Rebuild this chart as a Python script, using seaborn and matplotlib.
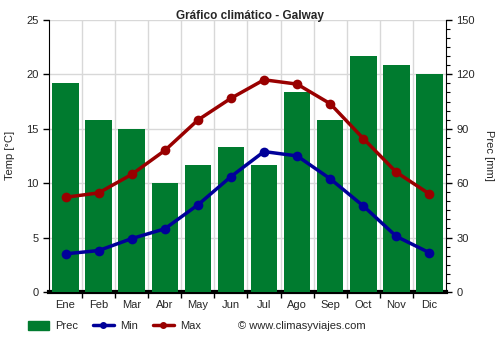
import matplotlib
matplotlib.use("Agg")
import matplotlib.pyplot as plt
import seaborn as sns
import pandas as pd
import numpy as np
from matplotlib.patches import Patch
from matplotlib.lines import Line2D
from matplotlib.ticker import MultipleLocator

months = ["Ene", "Feb", "Mar", "Abr", "May", "Jun", "Jul", "Ago", "Sep", "Oct", "Nov", "Dic"]
prec = [115, 95, 90, 60, 70, 80, 70, 110, 95, 130, 125, 120]
tmin = [3.5, 3.8, 4.9, 5.8, 8.0, 10.6, 12.9, 12.5, 10.4, 7.9, 5.1, 3.6]
tmax = [8.7, 9.1, 10.8, 13.0, 15.8, 17.8, 19.5, 19.1, 17.3, 14.1, 11.0, 9.0]

df = pd.DataFrame({"mes": months, "prec": prec, "min": tmin, "max": tmax})
df["x"] = np.arange(len(months))

sns.set_style("white")
plt.rcParams["font.family"] = ["Liberation Sans", "DejaVu Sans"]

GREEN = "#007b2f"
RED = "#990000"
BLUE = "#000099"

fig = plt.figure(figsize=(5, 3.5), dpi=100)
ax = fig.add_axes([0.098, 0.166, 0.794, 0.777])
ax2 = ax.twinx()

# bars on precipitation axis (drawn behind)
sns.barplot(data=df, x="x", y="prec", ax=ax2, color=GREEN, width=0.8,
            saturation=1, native_scale=True, zorder=2, linewidth=0, edgecolor="none")
ax2.set_ylim(0, 150)
ax2.yaxis.set_major_locator(MultipleLocator(30))
ax2.yaxis.set_minor_locator(MultipleLocator(5))
ax2.set_ylabel("Prec [mm]", rotation=270, labelpad=14, fontsize=8)
ax2.grid(axis="y", color="#d8d8d8", linewidth=1, zorder=0)
for b in np.arange(0.5, 11.5, 1):
    ax2.axvline(b, color="#d8d8d8", linewidth=1, zorder=0)
ax2.tick_params(axis="y", which="major", length=4, width=1, color="black",
                labelsize=8, direction="out", right=True)
ax2.tick_params(axis="y", which="minor", length=3, width=0.8, color="black", right=True)

# lines on temperature axis (drawn on top)
ax.set_zorder(ax2.get_zorder() + 1)
ax.patch.set_visible(False)
sns.lineplot(data=df, x="x", y="max", ax=ax, color=RED, linewidth=2.5,
             marker="o", markersize=7, markeredgewidth=0)
sns.lineplot(data=df, x="x", y="min", ax=ax, color=BLUE, linewidth=2.5,
             marker="o", markersize=7, markeredgewidth=0)
ax.set_ylim(0, 25)
ax.set_xlim(-0.5, 11.5)
ax.yaxis.set_major_locator(MultipleLocator(5))
ax.set_ylabel("Temp [°C]", fontsize=8, labelpad=8)
ax.set_xlabel("")
ax2.set_xlabel("")
ax.set_xticks(df["x"])
ax.set_xticklabels(months, fontsize=8)
ax.set_xticks(np.arange(0.5, 11.5, 1), minor=True)
ax.tick_params(axis="x", which="major", length=0, pad=6)
ax.tick_params(axis="x", which="minor", length=4, width=1, color="black", bottom=True)
ax.tick_params(axis="y", which="major", length=4, width=1, color="black",
               labelsize=8, left=True)

for a in (ax, ax2):
    a.spines["top"].set_visible(False)
ax.spines["left"].set_color("black")
ax2.spines["right"].set_color("black")
ax.spines["right"].set_visible(False)
ax2.spines["left"].set_visible(False)
ax.spines["bottom"].set_visible(False)
ax2.spines["bottom"].set_color("black")
ax2.spines["bottom"].set_linewidth(3)
ax2.spines["bottom"].set_zorder(1)
ax2.set_xlim(-0.5, 11.5)

fig.suptitle("Gráfico climático - Galway", fontsize=8.5, fontweight="bold", y=0.972)

handles = [Patch(facecolor=GREEN, edgecolor=GREEN),
           Line2D([0], [0], color=BLUE, linewidth=2.5, marker="o", markersize=4),
           Line2D([0], [0], color=RED, linewidth=2.5, marker="o", markersize=4)]
fig.legend(handles, ["Prec", "Min", "Max"], loc="center left",
           bbox_to_anchor=(0.035, 0.068), ncol=3, frameon=False, fontsize=8,
           handlelength=1.9, handleheight=0.8, columnspacing=1.35, handletextpad=0.55)
fig.text(0.475, 0.068, "© www.climasyviajes.com", fontsize=8, va="center")

fig.savefig("out.png", dpi=100)
